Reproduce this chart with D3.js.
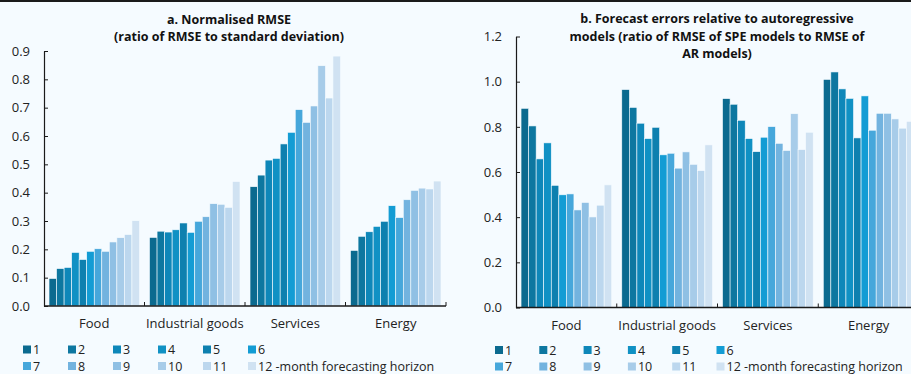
<!DOCTYPE html>
<html>
<head>
<meta charset="utf-8">
<script src="https://d3js.org/d3.v7.min.js"></script>
<style>
  html, body { margin: 0; padding: 0; background: #f5fbff; }
  svg { display: block; font-family: "Open Sans", sans-serif; }
  .axis path, .axis line { stroke: #1a1a1a; }
</style>
</head>
<body>
<svg id="chart" width="911" height="374"></svg>
<script>
// categories and horizons
const categories = ["Food", "Industrial goods", "Services", "Energy"];
const horizons = ["1", "2", "3", "4", "5", "6", "7", "8", "9", "10", "11", "12"];
const colors = ["#0b6a8f", "#0d77a0", "#0e87b9", "#1091c4", "#0e80af", "#139cd4",
                "#46a7db", "#72b3df", "#8fc0e4", "#a7cce9", "#bcd7ee", "#d0e2f2"];

// panel a: normalised RMSE
const rmseFood = [0.097, 0.132, 0.136, 0.189, 0.164, 0.193, 0.202, 0.193, 0.226, 0.241, 0.252, 0.301];
const rmseIndustrial = [0.242, 0.264, 0.261, 0.269, 0.293, 0.260, 0.299, 0.315, 0.361, 0.359, 0.348, 0.439];
const rmseServices = [0.421, 0.462, 0.515, 0.521, 0.572, 0.613, 0.693, 0.648, 0.706, 0.848, 0.734, 0.882];
const rmseEnergy = [0.196, 0.246, 0.262, 0.281, 0.299, 0.354, 0.312, 0.375, 0.408, 0.416, 0.413, 0.441];

// panel b: ratio to AR models
const arFood = [0.882, 0.804, 0.658, 0.729, 0.541, 0.499, 0.503, 0.432, 0.465, 0.401, 0.453, 0.543];
const arIndustrial = [0.965, 0.886, 0.816, 0.748, 0.798, 0.676, 0.683, 0.617, 0.689, 0.634, 0.606, 0.720];
const arServices = [0.925, 0.900, 0.829, 0.748, 0.690, 0.754, 0.801, 0.727, 0.695, 0.858, 0.699, 0.776];
const arEnergy = [1.010, 1.043, 0.968, 0.926, 0.751, 0.937, 0.785, 0.860, 0.860, 0.835, 0.794, 0.824];

const ticksA = [0, 0.1, 0.2, 0.3, 0.4, 0.5, 0.6, 0.7, 0.8, 0.9];
const ticksB = [0, 0.2, 0.4, 0.6, 0.8, 1.0, 1.2];

const svg = d3.select("#chart");

// thin dark rule at top
svg.append("rect").attr("x", 0).attr("y", 0).attr("width", 911).attr("height", 2).attr("fill", "#1a1a1a");

function panel(opts) {
  const g = svg.append("g");
  const x = d3.scaleBand().domain(categories).range([opts.left, opts.right]).paddingInner(0.1).paddingOuter(0.05);
  const xAxisScale = d3.scaleBand().domain(categories).range([opts.left, opts.right]);
  const xi = d3.scaleBand().domain(horizons).range([0, x.bandwidth()]);
  const y = d3.scaleLinear().domain([0, opts.max]).range([opts.bottom, opts.top]);

  const rows = categories.map((c, i) => ({ cat: c, values: opts.data[i] }));

  g.selectAll("g.cat")
    .data(rows)
    .join("g")
    .attr("class", "cat")
    .attr("transform", d => `translate(${x(d.cat)},0)`)
    .selectAll("rect")
    .data(d => d.values.map((v, i) => ({ h: horizons[i], v: v, i: i })))
    .join("rect")
    .attr("x", d => xi(d.h))
    .attr("width", xi.bandwidth())
    .attr("y", d => y(d.v))
    .attr("height", d => y(0) - y(d.v))
    .attr("fill", d => colors[d.i])
    .attr("stroke", "#f5fbff")
    .attr("stroke-width", 0.6);

  // y axis, ticks inside
  const ya = g.append("g")
    .attr("class", "axis")
    .attr("transform", `translate(${opts.left},0)`)
    .call(d3.axisRight(y).tickValues(opts.ticks).tickFormat(d3.format(".1f")).tickSize(4).tickSizeOuter(0));
  ya.selectAll("text")
    .attr("x", -14)
    .attr("text-anchor", "end")
    .attr("font-size", 13)
    .attr("fill", "#222")
    .attr("font-family", "Open Sans, sans-serif");
  ya.select(".domain").attr("stroke-width", 1.2);

  // x axis with boundary ticks pointing up
  const xa = g.append("g").attr("class", "axis");
  xa.append("line")
    .attr("x1", opts.left).attr("x2", opts.right)
    .attr("y1", y(0)).attr("y2", y(0))
    .attr("stroke", "#1a1a1a").attr("stroke-width", 1.4);
  xa.selectAll("line.tk")
    .data(categories.slice(1).concat(["end"]))
    .join("line")
    .attr("class", "tk")
    .attr("x1", d => d === "end" ? opts.right : xAxisScale(d))
    .attr("x2", d => d === "end" ? opts.right : xAxisScale(d))
    .attr("y1", y(0)).attr("y2", y(0) - 4)
    .attr("stroke", "#1a1a1a");
  xa.selectAll("text")
    .data(categories)
    .join("text")
    .attr("x", d => xAxisScale(d) + xAxisScale.bandwidth() / 2)
    .attr("y", opts.bottom + 22)
    .attr("text-anchor", "middle")
    .attr("font-size", 13)
    .attr("fill", "#222")
    .text(d => d);

  // title
  g.append("text")
    .attr("text-anchor", "middle")
    .attr("font-size", 12.5)
    .attr("font-weight", "bold")
    .attr("fill", "#111")
    .selectAll("tspan")
    .data(opts.title)
    .join("tspan")
    .attr("x", opts.titleX)
    .attr("y", (d, i) => opts.titleY + i * opts.titleStep)
    .text(d => d);

  // legend
  const lg = g.append("g");
  const items = lg.selectAll("g")
    .data(horizons)
    .join("g")
    .attr("transform", (d, i) => `translate(${opts.legendX + (i % 6) * opts.legendStep},${opts.legendY + Math.floor(i / 6) * 16.5})`);
  items.append("rect")
    .attr("x", 0).attr("y", -4).attr("width", 8).attr("height", 8)
    .attr("fill", (d, i) => colors[i]);
  items.append("text")
    .attr("x", 10).attr("y", 4.5)
    .attr("font-size", 12.5)
    .attr("fill", "#222")
    .text(d => d === "12" ? "12 -month forecasting horizon" : d);
}

panel({
  left: 44, right: 446, top: 51, bottom: 306, max: 0.9,
  ticks: ticksA,
  data: [rmseFood, rmseIndustrial, rmseServices, rmseEnergy],
  title: ["a. Normalised RMSE", "(ratio of RMSE to standard deviation)"],
  titleX: 229, titleY: 24, titleStep: 17,
  legendX: 23, legendY: 349.5, legendStep: 45
});

panel({
  left: 516, right: 919, top: 36.5, bottom: 307.5, max: 1.2,
  ticks: ticksB,
  data: [arFood, arIndustrial, arServices, arEnergy],
  title: ["b. Forecast errors relative to autoregressive", "models (ratio of RMSE of SPE models to RMSE of", "AR models)"],
  titleX: 717, titleY: 23, titleStep: 17.7,
  legendX: 495, legendY: 350, legendStep: 44.3
});
</script>
</body>
</html>
